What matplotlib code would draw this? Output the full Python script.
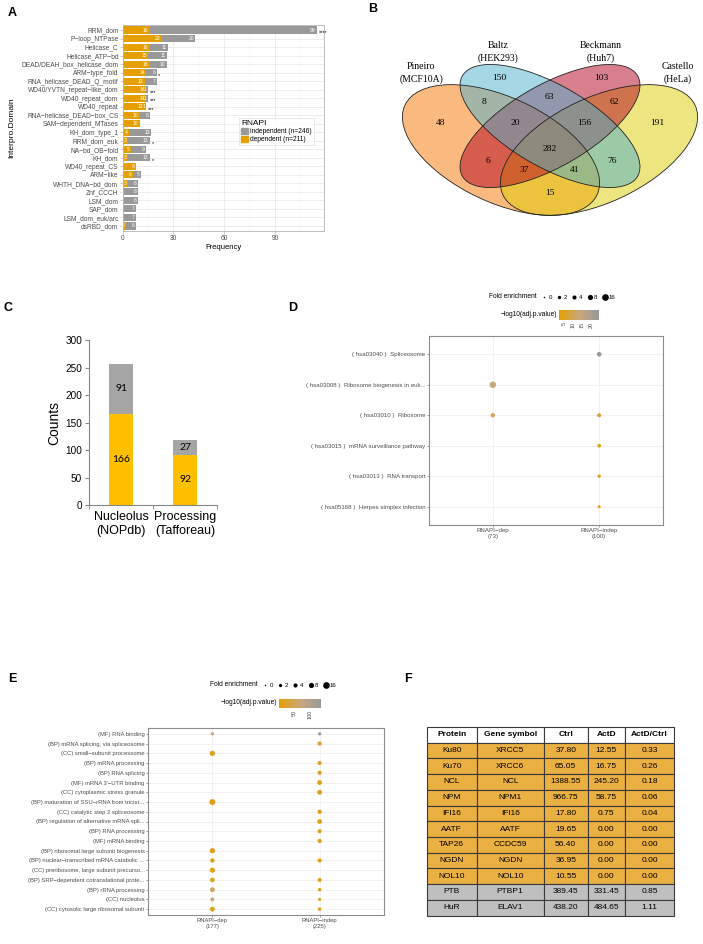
import matplotlib.pyplot as plt
import numpy as np
from matplotlib.patches import Ellipse, Patch
from matplotlib.colors import LinearSegmentedColormap, Normalize
from matplotlib.cm import ScalarMappable

W, H = 703, 944
plt.rcParams['font.family'] = ['Liberation Sans', 'DejaVu Sans']

ORANGE = "#E69F00"
GRAY = "#999999"

# ---- panel A data
domains = ["RRM_dom", "P\u2212loop_NTPase", "Helicase_C", "Helicase_ATP\u2212bd",
           "DEAD/DEAH_box_helicase_dom", "ARM\u2212type_fold", "RNA_helicase_DEAD_Q_motif",
           "WD40/YVTN_repeat\u2212like_dom", "WD40_repeat_dom", "WD40_repeat",
           "RNA\u2212helicase_DEAD\u2212box_CS", "SAM\u2212dependent_MTases", "KH_dom_type_1",
           "RRM_dom_euk", "NA\u2212bd_OB\u2212fold", "KH_dom", "WD40_repeat_CS", "ARM\u2212like",
           "WHTH_DNA\u2212bd_dom", "Znf_CCCH", "LSM_dom", "SAP_dom", "LSM_dom_euk/arc", "dsRBD_dom"]
dom_dep = [16, 23, 16, 15, 16, 14, 13, 14, 14, 13, 10, 10, 4, 3, 5, 3, 8, 6, 3, 1, 1, 1, 1, 2]
dom_indep = [99, 20, 11, 11, 10, 6, 7, 1, 1, 1, 6, 0, 13, 13, 9, 13, 0, 5, 6, 8, 8, 7, 7, 6]
dom_stars = ["****", "", "", "", "", "*", "", "***", "***", "***", "", "", "", "*", "", "*",
             "", "", "", "", "", "", "", ""]

# ---- panel B data
venn_sets = ["Pineiro\n(MCF10A)", "Baltz\n(HEK293)", "Beckmann\n(Huh7)", "Castello\n(HeLa)"]
venn_counts = [150, 103, 8, 63, 62, 48, 20, 156, 191, 282, 6, 76, 37, 41, 15]

# ---- panel C data
c_cats = ["Nucleolus\n(NOPdb)", "Processing\n(Tafforeau)"]
c_dep = [166, 92]
c_indep = [91, 27]

# ---- panel D data (KEGG)
kegg_terms = ["( hsa03040 )  Spliceosome", "( hsa03008 )  Ribosome biogenesis in euk...",
              "( hsa03010 )  Ribosome", "( hsa03015 )  mRNA surveillance pathway",
              "( hsa03013 )  RNA transport", "( hsa05168 )  Herpes simplex infection"]
kegg_dep_fe = [np.nan, 14, 4.7, np.nan, np.nan, np.nan]
kegg_dep_lp = [np.nan, 13, 9, np.nan, np.nan, np.nan]
kegg_indep_fe = [6, np.nan, 3.7, 2.9, 2.0, 1.3]
kegg_indep_lp = [24, np.nan, 8, 4, 3.5, 3]
kegg_cols = ["RNAPI\u2212dep\n(73)", "RNAPI\u2212indep\n(100)"]

# ---- panel E data (GO)
go_terms = ["(MF) RNA binding", "(BP) mRNA splicing, via spliceosome",
            "(CC) small\u2212subunit processome", "(BP) mRNA processing", "(BP) RNA splicing",
            "(MF) mRNA 3\u2032\u2212UTR binding", "(CC) cytoplasmic stress granule",
            "(BP) maturation of SSU\u2212rRNA from tricist...", "(CC) catalytic step 2 spliceosome",
            "(BP) regulation of alternative mRNA spli...", "(BP) RNA processing",
            "(MF) mRNA binding", "(BP) ribosomal large subunit biogenesis",
            "(BP) nuclear\u2212transcribed mRNA catabolic ...",
            "(CC) preribosome, large subunit precurso...",
            "(BP) SRP\u2212dependent cotranslational prote...", "(BP) rRNA processing",
            "(CC) nucleolus", "(CC) cytosolic large ribosomal subunit"]
nan = np.nan
go_dep_fe = [1.9, nan, 8.5, nan, nan, nan, nan, 12, nan, nan, nan, nan, 8.5, 4.6, 8, 5.8, 7, 3.5, 6.5]
go_dep_lp = [75, nan, 20, nan, nan, nan, nan, 15, nan, nan, nan, nan, 18, 14, 16, 15, 60, 70, 16]
go_indep_fe = [1.9, 4.6, nan, 4, 4, 6.5, 6.5, nan, 4.5, 6, 4, 4.2, nan, 3.8, nan, 3.6, 2.2, 1.5, 2.5]
go_indep_lp = [125, 35, nan, 20, 18, 15, 14, nan, 14, 12, 16, 12, nan, 10, nan, 10, 10, 12, 9]
go_cols = ["RNAPI\u2212dep\n(177)", "RNAPI\u2212indep\n(225)"]
fe_legend = [0, 2, 4, 8, 16]

# ---- panel F data
f_cols = ["Protein", "Gene symbol", "Ctrl", "ActD", "ActD/Ctrl"]
proteins = ["Ku80", "Ku70", "NCL", "NPM", "IFI16", "AATF", "TAP26", "NGDN", "NOL10", "PTB", "HuR"]
genes = ["XRCC5", "XRCC6", "NCL", "NPM1", "IFI16", "AATF", "CCDC59", "NGDN", "NOL10", "PTBP1", "ELAV1"]
ctrl = [37.80, 65.05, 1388.55, 966.75, 17.80, 19.65, 56.40, 36.95, 10.55, 389.45, 438.20]
actd = [12.55, 16.75, 245.20, 58.75, 0.75, 0.00, 0.00, 0.00, 0.00, 331.45, 484.65]
ratio = [0.33, 0.26, 0.18, 0.06, 0.04, 0.00, 0.00, 0.00, 0.00, 0.85, 1.11]
row_group = ["dep"] * 9 + ["ctrl"] * 2


def fbox(x0, y0, x1, y1):
    return [x0 / W, 1 - y1 / H, (x1 - x0) / W, (y1 - y0) / H]


def dot_size(fe):
    d_px = 1.5 + 1.3 * np.sqrt(np.asarray(fe, dtype=float))
    return (d_px * 0.72) ** 2


cmap = LinearSegmentedColormap.from_list("og", [ORANGE, "#C9A77A", GRAY])

fig = plt.figure(figsize=(W / 100, H / 100), dpi=100)

# panel letters
for lab, (x, y) in zip("ABCDEF", [(12, 13), (373, 9), (8, 308), (293, 308), (12, 679), (408, 679)]):
    fig.text(x / W, 1 - y / H, lab, fontsize=9, fontweight="bold", ha="center", va="center")

# ================= A =================
axA = fig.add_axes(fbox(122.7, 25, 324, 231))
n = len(domains)
ya = np.arange(n, 0, -1)
axA.barh(ya, dom_dep, height=0.85, color=ORANGE, zorder=2)
axA.barh(ya, dom_indep, left=dom_dep, height=0.85, color=GRAY, zorder=2)
for yy, d, i, s in zip(ya, dom_dep, dom_indep, dom_stars):
    if d > 0:
        axA.text(d - 0.8, yy, str(d), ha="right", va="center", color="white", fontsize=3.6, zorder=3)
    if i > 0:
        axA.text(d + i - 0.8, yy, str(i), ha="right", va="center", color="white", fontsize=3.6, zorder=3)
    if s:
        axA.text(d + i + 1, yy - 0.3, s, ha="left", va="center", color="black", fontsize=4, zorder=3)
axA.set_xlim(0, 119)
axA.set_ylim(0.4, n + 0.6)
axA.set_yticks(ya)
axA.set_yticklabels(domains)
axA.set_xticks([0, 30, 60, 90])
axA.set_xticks([15, 45, 75, 105], minor=True)
axA.grid(True, which="major", color="#E5E5E5", lw=0.5, zorder=0)
axA.grid(True, which="minor", axis="x", color="#F2F2F2", lw=0.3, zorder=0)
axA.set_axisbelow(True)
for sp in axA.spines.values():
    sp.set_color("#B3B3B3")
    sp.set_linewidth(0.6)
axA.tick_params(labelsize=4.8, labelcolor="#4D4D4D", color="#B3B3B3", length=2, width=0.5, pad=1)
axA.tick_params(which="minor", length=0)
axA.set_xlabel("Frequency", fontsize=5.5, labelpad=1)
fig.text(12 / W, 1 - 128 / H, "Interpro.Domain", rotation=90, fontsize=6, ha="center", va="center")
legA = axA.legend([Patch(color=GRAY), Patch(color=ORANGE)],
                  ["independent (n=246)", "dependent (n=211)"], title="RNAPI",
                  loc="upper left", bbox_to_anchor=(0.563, 0.563), fontsize=4.8, title_fontsize=6,
                  frameon=True, fancybox=False, edgecolor="#DDDDDD", handlelength=1.0,
                  handleheight=1.0, borderpad=0.3, labelspacing=0.1, handletextpad=0.3,
                  alignment="left")
legA.get_frame().set_linewidth(0.6)

# ================= B =================
axB = fig.add_axes(fbox(360, 0, 703, 240))
axB.set_xlim(360, 703)
axB.set_ylim(240, 0)
axB.axis("off")
# Pineiro, Baltz, Beckmann, Castello
venn_shapes = [(501, 150, 212, 105, 25), (550, 126, 202, 82, 29.8),
               (550, 126, 202, 82, -29.8), (599, 150, 212, 105, -25)]
venn_colors = ["#F77700", "#4DB1CD", "#B3011F", "#DDCD00"]
fill_order = [0, 3, 2, 1]
for k in fill_order:
    cx, cy, w, h, ang = venn_shapes[k]
    axB.add_patch(Ellipse((cx, cy), w, h, angle=ang, facecolor=venn_colors[k], alpha=0.5,
                          edgecolor="none"))
for (cx, cy, w, h, ang) in venn_shapes:
    axB.add_patch(Ellipse((cx, cy), w, h, angle=ang, fill=False, edgecolor="#222222", lw=0.6))
set_pos = [(421, 73), (498, 52), (601, 52), (678, 73)]
for name, (x, y) in zip(venn_sets, set_pos):
    axB.text(x, y, name, ha="center", va="center", fontsize=7, family="Liberation Serif",
             linespacing=1.35)
count_pos = [(499, 78), (601, 78), (484, 102), (549, 97), (614, 102), (441, 123), (515, 123),
             (584, 123), (657, 123), (550, 149), (488, 161), (612, 161), (524, 170), (575, 170),
             (550, 193)]
for v, (x, y) in zip(venn_counts, count_pos):
    axB.text(x, y, str(v), ha="center", va="center", fontsize=6.8, family="Liberation Serif")

# ================= C =================
axC = fig.add_axes(fbox(89, 340, 217, 505.3))
xc = np.arange(len(c_cats))
axC.bar(xc, c_dep, width=0.39, color="#FFC000")
axC.bar(xc, c_indep, bottom=c_dep, width=0.39, color="#A5A5A5")
for x, d, i in zip(xc, c_dep, c_indep):
    axC.text(x, d / 2, str(d), ha="center", va="center", fontsize=7.5, family="Lato")
    axC.text(x, d + i / 2, str(i), ha="center", va="center", fontsize=7.5, family="Lato")
axC.set_xlim(-0.5, 1.5)
axC.set_ylim(0, 300)
axC.set_yticks(np.arange(0, 301, 50))
axC.set_xticks(xc)
axC.set_xticklabels(c_cats, fontsize=9)
axC.set_xticks([-0.5, 0.5, 1.5], minor=True)
axC.tick_params(axis="x", which="major", length=0, pad=4)
axC.tick_params(axis="x", which="minor", length=3, color="#868686", direction="out")
axC.tick_params(axis="y", labelsize=7.2, length=3, color="#868686", pad=2)
for sp in ["top", "right"]:
    axC.spines[sp].set_visible(False)
for sp in ["left", "bottom"]:
    axC.spines[sp].set_color("#868686")
    axC.spines[sp].set_linewidth(0.8)
axC.set_ylabel("Counts", fontsize=10, labelpad=3)


# ================= D / E dot plots =================
def dotplot(ax, terms, dep_fe, dep_lp, indep_fe, indep_lp, norm, cols, labsize):
    m = len(terms)
    yy = np.arange(m, 0, -1)
    for xcol, fe, lp in [(1, dep_fe, dep_lp), (2, indep_fe, indep_lp)]:
        fe = np.asarray(fe, dtype=float)
        lp = np.asarray(lp, dtype=float)
        ok = ~np.isnan(fe)
        ax.scatter(np.full(ok.sum(), xcol), yy[ok], s=dot_size(fe[ok]),
                   c=cmap(norm(lp[ok])), linewidths=0, zorder=3)
    ax.set_xlim(0.4, 2.6)
    ax.set_ylim(0.4, m + 0.6)
    ax.set_yticks(yy)
    ax.set_yticklabels(terms)
    ax.set_xticks([1, 2])
    ax.set_xticklabels(cols)
    ax.grid(True, color="#EBEBEB", lw=0.5, zorder=0)
    ax.set_axisbelow(True)
    for sp in ax.spines.values():
        sp.set_color("#8C8C8C")
        sp.set_linewidth(0.8)
    ax.tick_params(labelsize=labsize, labelcolor="#4D4D4D", color="#4D4D4D", length=1.5,
                   width=0.4, pad=1)


def dot_legends(x_fe, y_fe, x_cb, y_cb, cb_w, norm, ticks, ax):
    fig.text((x_fe - 5) / W, 1 - y_fe / H, "Fold enrichment", ha="right", va="center", fontsize=4.8)
    handles = [ax.scatter([], [], s=dot_size(v), color="black", linewidths=0) for v in fe_legend]
    fig.legend(handles, [str(v) for v in fe_legend], ncol=5, loc="center left",
               bbox_to_anchor=(x_fe / W, 1 - y_fe / H), frameon=False, fontsize=4.4,
               handlelength=0.8, handletextpad=0.3, columnspacing=0.8, borderpad=0,
               borderaxespad=0)
    fig.text((x_cb - 2) / W, 1 - y_cb / H, "\u2212log10(adj.p.value)", ha="right", va="center",
             fontsize=4.8)
    cax = fig.add_axes(fbox(x_cb, y_cb - 4.5, x_cb + cb_w, y_cb + 4.5))
    cb = fig.colorbar(ScalarMappable(norm=norm, cmap=cmap), cax=cax, orientation="horizontal")
    cb.outline.set_visible(False)
    cb.set_ticks(ticks)
    cb.ax.tick_params(labelsize=4, length=0, pad=1.5, labelcolor="#4D4D4D")
    for t in cb.ax.get_xticklabels():
        t.set_rotation(90)


normD = Normalize(2.2, 24.4)
axD = fig.add_axes(fbox(429, 336, 663, 525))
dotplot(axD, kegg_terms, kegg_dep_fe, kegg_dep_lp, kegg_indep_fe, kegg_indep_lp, normD,
        kegg_cols, 4.4)
dot_legends(542, 297, 559, 315, 40, normD, [5, 10, 15, 20], axD)

normE = Normalize(3, 134)
axE = fig.add_axes(fbox(148, 728, 384, 915))
dotplot(axE, go_terms, go_dep_fe, go_dep_lp, go_indep_fe, go_indep_lp, normE, go_cols, 4.2)
dot_legends(263, 685, 279, 703, 42, normE, [50, 100], axE)

# ================= F =================
axF = fig.add_axes(fbox(426.7, 727, 674, 915.5))
axF.axis("off")
cell_text = [[p, g, f"{c:.2f}", f"{a:.2f}", f"{r:.2f}"]
             for p, g, c, a, r in zip(proteins, genes, ctrl, actd, ratio)]
row_col = {"dep": "#EBB042", "ctrl": "#BFBFBF"}
cell_colours = [[row_col[g]] * 5 for g in row_group]
col_w = np.array([50, 67, 44, 37.3, 49])
tbl = axF.table(cellText=cell_text, colLabels=f_cols, cellColours=cell_colours,
                colColours=["white"] * 5, colWidths=list(col_w / col_w.sum()),
                bbox=[0, 0, 1, 1], cellLoc="center")
tbl.auto_set_font_size(False)
tbl.set_fontsize(6)
for (r, c), cell in tbl.get_celld().items():
    cell.set_edgecolor("#3A3A3A")
    cell.set_linewidth(0.8)
    if r == 0:
        cell.get_text().set_fontweight("bold")

fig.savefig("out.png", dpi=100)
